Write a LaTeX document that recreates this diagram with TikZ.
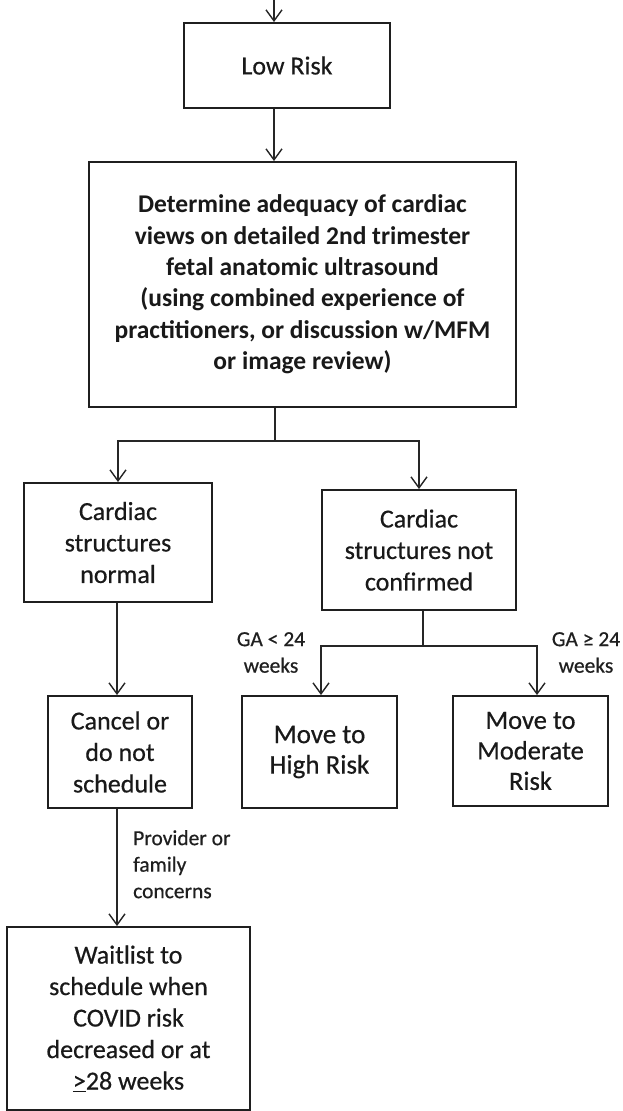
\documentclass[tikz,border=0pt]{standalone}
\usepackage{fontspec}
\setmainfont{Carlito}
\newfontfamily\regf[FakeBold=0.5]{Carlito}
\usetikzlibrary{arrows.meta}
\begin{document}
\begin{tikzpicture}[x=1pt,y=-1pt,
  box/.style={draw=black!88, line width=1.9pt, rectangle, align=center, text=black!90, inner sep=0pt, font=\regf\fontsize{26}{31.5}\selectfont},
  conn/.style={draw=black!85, line width=1.4pt},
  arr/.style={conn, -{Straight Barb[length=11pt,width=16pt,line width=1.4pt]}},
  lbl/.style={text=black!88, font=\regf\fontsize{21.5}{26.5}\selectfont, inner sep=0pt}]
\fill[white] (0,0) rectangle (623,1111);
\useasboundingbox (0,0) rectangle (623,1111);

\node[box, minimum width=206pt, minimum height=85pt] (low) at (287,65.5) {Low Risk};
\node[box, font=\bfseries\fontsize{25.5}{31.4}\selectfont, minimum width=427pt, minimum height=245pt] (det) at (302.5,284.5) {Determine adequacy of cardiac\\views on detailed 2nd trimester\\fetal anatomic ultrasound\\(using combined experience of\\practitioners, or discussion w/MFM\\or image review)};
\node[box, minimum width=188pt, minimum height=119pt] (norm) at (118,542.5) {Cardiac\\structures\\normal};
\node[box, minimum width=194pt, minimum height=120pt] (notc) at (419,550) {Cardiac\\structures not\\confirmed};
\node[box, minimum width=155pt, minimum height=112pt, font=\regf\fontsize{27}{30.5}\selectfont] (high) at (319.5,752) {Move to\\High Risk};
\node[box, minimum width=155pt, minimum height=110pt, font=\regf\fontsize{26.5}{30.5}\selectfont] (mod) at (530.5,751) {Move to\\Moderate\\Risk};
\node[box, minimum width=144pt, minimum height=112pt] (cancel) at (120,752) {Cancel or\\do not\\schedule};
\node[box, minimum width=243pt, minimum height=183pt] (wait) at (128.5,1018.5) {Waitlist to\\schedule when\\COVID risk\\decreased or at\\\underline{>}28 weeks};

\coordinate (top) at (274,0);
\draw[arr] (top) -- (top |- low.north);
\draw[arr] (low.south -| top) -- (det.north -| top);
\coordinate (j1) at (275,441);
\draw[conn] (det.south -| j1) -- (j1);
\draw[arr] (j1) -| (norm.north);
\draw[arr] (j1) -| (notc.north);
\coordinate (j2) at (423,646);
\coordinate (m) at (537,646);
\coordinate (h) at (321,646);
\draw[conn] (notc.south -| j2) -- (j2);
\draw[arr] (j2) -- (h) -- (h |- high.north);
\draw[arr] (j2) -- (m) -- (m |- mod.north);
\coordinate (s) at (117,0);
\draw[arr] (norm.south -| s) -- (cancel.north -| s);
\draw[arr] (cancel.south -| s) -- (wait.north -| s);

\node[lbl, align=left, anchor=north west] (prov) at (133,830) {Provider or\\family\\concerns};
\node[lbl, align=center, anchor=north] (ga1) at (271,632) {GA < 24\\weeks};
\node[lbl, align=center, anchor=north] (ga2) at (586,632) {GA ≥ 24\\weeks};
\end{tikzpicture}
\end{document}
